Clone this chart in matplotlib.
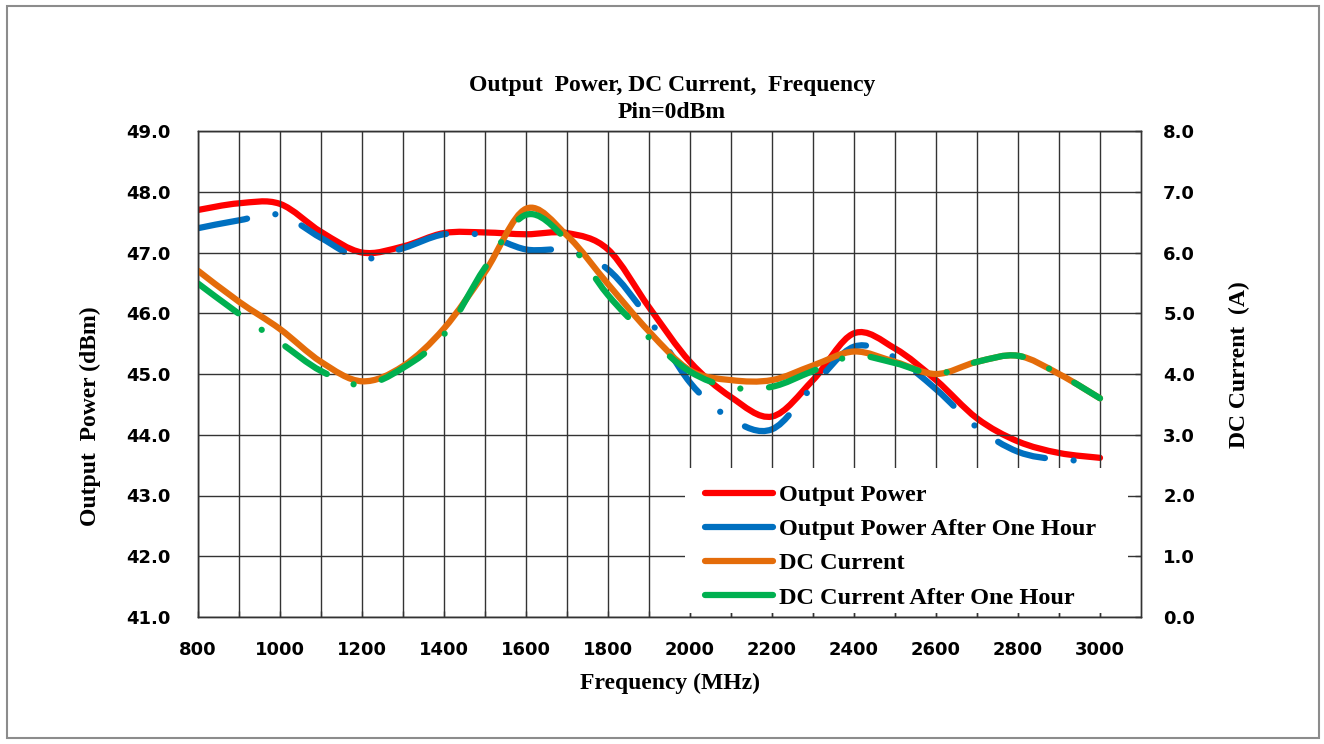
import numpy as np
import matplotlib
matplotlib.use("Agg")
import matplotlib.pyplot as plt
from matplotlib.path import Path
from matplotlib.patches import PathPatch, Rectangle
from matplotlib.lines import Line2D


# frequency points (MHz)
freq = [800, 900, 1000, 1100, 1200, 1300, 1400, 1500, 1600, 1700, 1800, 1900,
        2000, 2100, 2200, 2300, 2400, 2500, 2600, 2700, 2800, 2900, 3000]

# output power (dBm)
pout = [47.70, 47.81, 47.80, 47.34, 47.00, 47.10, 47.32, 47.33, 47.30, 47.32,
        47.05, 46.10, 45.20, 44.62, 44.30, 44.90, 45.67, 45.42, 44.90, 44.27,
        43.89, 43.70, 43.62]
pout_1h = [47.40, 47.53, 47.62, 47.24, 46.90, 47.07, 47.30, 47.28, 47.05, 47.03,
           46.72, 45.90, 44.86, 44.26, 44.09, 44.80, 45.45, 45.27, 44.75, 44.12,
           43.72, 43.59, 43.58]

# DC current (A)
idc = [5.70, 5.19, 4.74, 4.20, 3.88, 4.13, 4.75, 5.68, 6.72, 6.28, 5.48, 4.70,
       4.06, 3.90, 3.90, 4.14, 4.37, 4.20, 4.00, 4.20, 4.30, 4.00, 3.60]
idc_1h = [5.49, 4.99, 4.52, 4.05, 3.82, 4.10, 4.65, 5.75, 6.62, 6.20, 5.30, 4.60,
          4.04, 3.78, 3.79, 4.05, 4.30, 4.18, 4.00, 4.20, 4.30, 4.00, 3.60]

labels = ['Output Power', 'Output Power After One Hour',
          'DC Current', 'DC Current After One Hour']
colors = ['#FF0000', '#0070C0', '#E46C0A', '#00B050']

SERIF = 'Liberation Serif'
LW = 4.5
DASHDOT = (0, (8.0, 4.6, 0.01, 4.6))
W, H = 1324, 744


def smooth_path(x, y):
    """Excel style smoothed line: a cubic Bezier between each pair of points."""
    pts = np.column_stack([x, y]).astype(float)
    ext = np.vstack([pts[:1], pts, pts[-1:]])
    verts = [pts[0]]
    codes = [Path.MOVETO]
    for i in range(len(pts) - 1):
        p0, p1, p2, p3 = ext[i], ext[i + 1], ext[i + 2], ext[i + 3]
        verts += [p1 + (p2 - p0) / 6, p2 - (p3 - p1) / 6, p2]
        codes += [Path.CURVE4] * 3
    return Path(verts, codes)


def add_curve(ax, x, y, color, ls):
    patch = PathPatch(smooth_path(x, y), fill=False, edgecolor=color, lw=LW,
                      linestyle=ls, capstyle='round', joinstyle='round')
    ax.add_patch(patch)


def main():
    fig = plt.figure(figsize=(W / 100, H / 100), dpi=100)
    ax = fig.add_axes([198 / W, 1 - 617 / H, 943 / W, 486 / H])
    ax2 = ax.twinx()

    add_curve(ax, freq, pout, colors[0], '-')
    add_curve(ax, freq, pout_1h, colors[1], DASHDOT)
    add_curve(ax2, freq, idc, colors[2], '-')
    add_curve(ax2, freq, idc_1h, colors[3], DASHDOT)

    ax.set_xlim(800, 3100)
    ax.set_ylim(41, 49)
    ax2.set_ylim(0, 8)

    ax.set_xticks(np.arange(800, 3001, 200))
    ax.set_xticks(np.arange(900, 3000, 200), minor=True)
    ax.set_yticks(np.arange(41, 49.1, 1))
    ax2.set_yticks(np.arange(0, 8.1, 1))
    ax.set_yticklabels([f'{v:.1f}' for v in np.arange(41, 49.1, 1)])
    ax2.set_yticklabels([f'{v:.1f}' for v in np.arange(0, 8.1, 1)])

    grid_kw = dict(color='#333333', linewidth=1.0)
    ax.grid(True, which='both', axis='x', **grid_kw)
    ax.grid(True, which='major', axis='y', **grid_kw)
    for sp in list(ax.spines.values()) + list(ax2.spines.values()):
        sp.set_color('#333333')
        sp.set_linewidth(1.0)

    tick_font = dict(fontsize=13, fontweight='bold', family='DejaVu Sans')
    ax.tick_params(axis='x', which='both', direction='in', length=4,
                   width=1.0, color='#333333', pad=17.5)
    ax.tick_params(axis='y', length=0, pad=20)
    ax2.tick_params(axis='y', direction='in', length=4, width=1.0,
                    color='#333333', pad=16)
    for lab in ax.get_xticklabels() + ax.get_yticklabels() + ax2.get_yticklabels():
        lab.set(**tick_font)

    label_font = dict(fontsize=17, fontweight='bold', family=SERIF)
    ax.set_xlabel('Frequency (MHz)', labelpad=10, **label_font)
    ax.set_ylabel('Output  Power (dBm)', **label_font)
    ax2.set_ylabel('DC Current  (A)', **label_font)
    ax.yaxis.set_label_coords((101 - 198) / 943, 0.414)
    ax2.yaxis.set_label_coords((1229 - 198) / 943, 0.519)

    fig.text(672 / W, 1 - 86 / H, 'Output  Power, DC Current,  Frequency',
             ha='center', va='center', **label_font)
    fig.text(672 / W, 1 - 113 / H, 'Pin=0dBm', ha='center', va='center',
             **label_font)

    # white legend background over the grid
    fig.patches.append(Rectangle((685 / W, 1 - 613 / H), 443 / W, 145 / H,
                                 transform=fig.transFigure, facecolor='white',
                                 edgecolor='none', zorder=1.5))

    handles = [Line2D([], [], color=c, lw=LW, solid_capstyle='round')
               for c in colors]
    fig.legend(handles, labels, loc='upper left',
               bbox_to_anchor=(705 / W, 1 - 484 / H),
               prop=dict(family=SERIF, weight='bold', size=17.5),
               frameon=False, handlelength=2.8, handletextpad=0.25,
               labelspacing=0.5, borderpad=0, borderaxespad=0)

    # chart area border
    fig.patches.append(Rectangle((7 / W, 6 / H), 1312 / W, 732 / H,
                                 transform=fig.transFigure, fill=False,
                                 edgecolor='#8c8c8c', linewidth=1.5))

    fig.savefig('out.png', dpi=100)


if __name__ == '__main__':
    main()
